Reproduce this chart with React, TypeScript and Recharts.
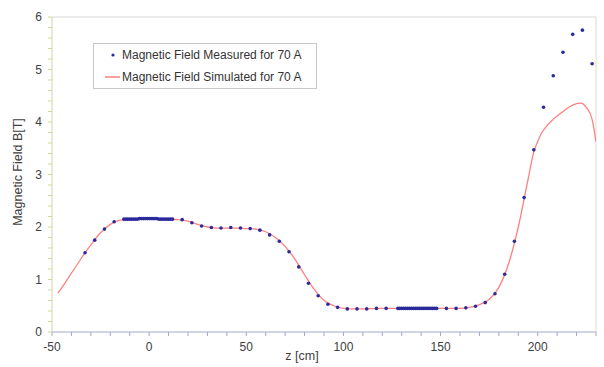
import React from "react";
import {
  ComposedChart,
  Line,
  Scatter,
  XAxis,
  YAxis,
  ReferenceLine,
} from "recharts";

// measured field (blue dots)
const measuredZ = [
  -33, -28, -23, -18,
  -13, -12, -11, -10, -9, -8, -7, -6, -5, -4, -3, -2, -1, 0, 1, 2, 3, 4, 5, 6, 7, 8, 9, 10, 11, 12,
  17, 22, 27, 32, 37, 42, 47, 52, 57, 62, 67, 72, 77, 82, 87, 92, 97, 102, 107, 112, 117, 122,
  128, 129, 130, 131, 132, 133, 134, 135, 136, 137, 138, 139, 140, 141, 142, 143, 144, 145, 146, 147, 148,
  153, 158, 163, 168, 173, 178, 183, 188, 193, 198, 203, 208, 213, 218, 223, 228,
];
const measuredB = [
  1.51, 1.75, 1.96, 2.1,
  2.15, 2.15, 2.15, 2.15, 2.15, 2.15, 2.15, 2.15, 2.16, 2.16, 2.16, 2.16, 2.16, 2.16, 2.16, 2.16, 2.16, 2.16, 2.15, 2.15, 2.15, 2.15, 2.15, 2.15, 2.15, 2.15,
  2.14, 2.08, 2.02, 1.99, 1.98, 1.99, 1.98, 1.97, 1.94, 1.85, 1.73, 1.53, 1.24, 0.93, 0.69, 0.53, 0.47, 0.44, 0.44, 0.44, 0.45, 0.45,
  0.45, 0.45, 0.45, 0.45, 0.45, 0.45, 0.45, 0.45, 0.45, 0.45, 0.45, 0.45, 0.45, 0.45, 0.45, 0.45, 0.45, 0.45, 0.45, 0.45, 0.45,
  0.45, 0.45, 0.46, 0.49, 0.56, 0.73, 1.1, 1.73, 2.56, 3.47, 4.28, 4.88, 5.33, 5.67, 5.75, 5.11,
];

// simulated field (red line)
const simZ = [
  -47, -45, -40, -35, -30, -25, -20, -15, -10, -5, 0, 5, 10, 15, 20, 25, 30, 35, 40, 45, 50, 55, 60,
  65, 70, 75, 80, 85, 90, 95, 100, 105, 110, 120, 130, 140, 150, 160, 165, 170, 175, 180, 185, 190,
  195, 198, 200, 202, 205, 208, 212, 216, 220, 222, 225, 228, 230,
];
const simB = [
  0.74, 0.84, 1.12, 1.4, 1.66, 1.89, 2.05, 2.13, 2.15, 2.16, 2.16, 2.16, 2.15, 2.14, 2.11, 2.05, 2.0, 1.98, 1.98, 1.98, 1.97, 1.96, 1.91,
  1.8, 1.63, 1.39, 1.09, 0.81, 0.6, 0.5, 0.45, 0.44, 0.44, 0.45, 0.45, 0.45, 0.45, 0.45, 0.47, 0.52, 0.62, 0.85, 1.3, 2.0,
  2.9, 3.43, 3.63, 3.79, 3.94, 4.05, 4.17, 4.28, 4.35, 4.36, 4.28, 4.05, 3.62,
];

const xTicks = Array.from({ length: 29 }, (_, i) => -50 + i * 10);
const yTicks = Array.from({ length: 31 }, (_, i) => Math.round(i * 0.2 * 10) / 10);

const measured = measuredZ.map((z, i) => ({ z, b: measuredB[i] }));
const simulated = simZ.map((z, i) => ({ z, b: simB[i] }));

const font = "'Liberation Sans', Arial, sans-serif";
const textColor = "#404040";

const XTick = ({ x, y, payload }: any) =>
  payload.value % 50 === 0 ? (
    <text x={x} y={y + 13} textAnchor="middle" fontSize={12} fill={textColor} fontFamily={font}>
      {payload.value}
    </text>
  ) : null;

const YTick = ({ x, y, payload }: any) =>
  Number.isInteger(payload.value) ? (
    <text x={x - 4} y={y + 4} textAnchor="end" fontSize={12} fill={textColor} fontFamily={font}>
      {payload.value}
    </text>
  ) : null;

const LegendBox = () => (
  <div
    style={{
      position: "absolute",
      left: 93,
      top: 43,
      border: "1px solid #c8c8c8",
      background: "#fff",
      width: 222,
      padding: "0",
      fontFamily: font,
      fontSize: 12,
      color: "#333",
    }}
  >
    <div style={{ display: "flex", alignItems: "center", height: 22 }}>
      <svg width={28} height={10}>
        <circle cx={19} cy={5} r={1.6} fill="#2a2a9a" />
      </svg>
      <span>Magnetic Field Measured for 70 A</span>
    </div>
    <div style={{ display: "flex", alignItems: "center", height: 22 }}>
      <svg width={28} height={10}>
        <line x1={11} x2={26} y1={5} y2={5} stroke="#ff8080" strokeWidth={1.5} />
      </svg>
      <span>Magnetic Field Simulated for 70 A</span>
    </div>
  </div>
);

const Dot = ({ cx, cy }: any) => <circle cx={cx} cy={cy} r={1.8} fill="#2a2a9a" />;

export default function App() {
  return (
    <div style={{ position: "fixed", left: 0, top: 0, background: "#fff", width: 604, height: 367 }}>
      <ComposedChart
        width={604}
        height={367}
        margin={{ top: 17, right: 8, bottom: 5, left: 0 }}
      >
        <XAxis
          type="number"
          dataKey="z"
          domain={[-50, 230]}
          ticks={xTicks}
          interval={0}
          tick={<XTick />}
          tickSize={4}
          stroke="#a0a8c8"
          allowDataOverflow
          height={30}
        />
        <YAxis
          type="number"
          dataKey="b"
          domain={[0, 6]}
          ticks={yTicks}
          interval={0}
          tick={<YTick />}
          tickSize={4}
          stroke="#d4d4a0"
          width={52}
        />
        <ReferenceLine y={6} stroke="#d8d8d8" />
        <ReferenceLine x={230} stroke="#e0e0c0" />
        <Line
          data={simulated}
          dataKey="b"
          type="monotone"
          stroke="#ff8080"
          strokeWidth={1.3}
          dot={false}
          isAnimationActive={false}
        />
        <Scatter
          data={measured}
          dataKey="b"
          shape={<Dot />}
          isAnimationActive={false}
        />
      </ComposedChart>
      <LegendBox />
      <svg
        width={604}
        height={367}
        style={{ position: "absolute", left: 0, top: 0, pointerEvents: "none" }}
      >
        <text
          x={22}
          y={172}
          transform="rotate(-90, 22, 172)"
          textAnchor="middle"
          fontSize={12.5}
          fill={textColor}
          fontFamily={font}
        >
          Magnetic Field B[T]
        </text>
        <text x={302} y={360} textAnchor="middle" fontSize={12.5} fill={textColor} fontFamily={font}>
          z [cm]
        </text>
      </svg>
    </div>
  );
}
